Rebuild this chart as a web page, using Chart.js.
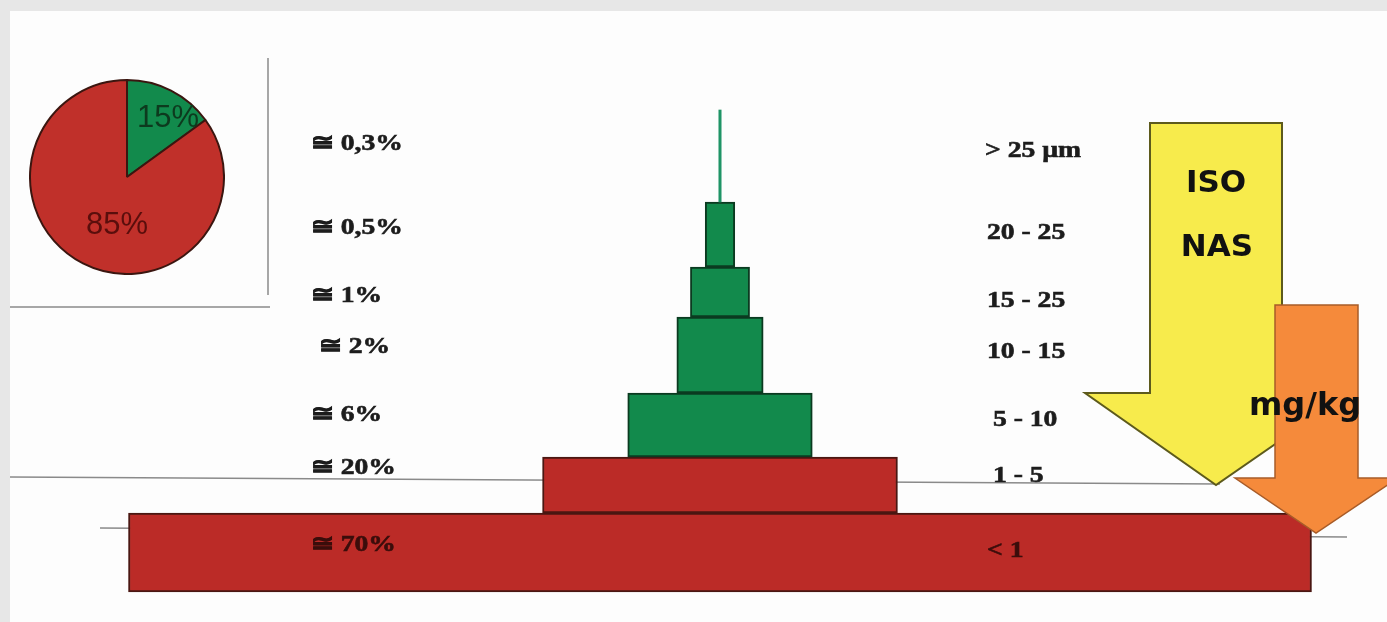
<!DOCTYPE html>
<html>
<head>
<meta charset="utf-8">
<script src="https://cdn.jsdelivr.net/npm/chart.js@4.4.0/dist/chart.umd.min.js"></script>
<style>
  html, body { margin: 0; padding: 0; background: #e7e7e7; overflow: hidden; }
  #panel { position: absolute; left: 10px; top: 11px; width: 1377px; height: 611px; background: #fdfdfd; }
  #main { position: absolute; left: 0; top: 0; }
  #pie { position: absolute; left: 29px; top: 79px; }
</style>
</head>
<body>
<div id="panel"></div>
<canvas id="main" width="1387" height="622"></canvas>
<canvas id="pie" width="196" height="196"></canvas>
<script>
// particle size classes, bottom level first
const sizeClasses = ['< 1', '1 - 5', '5 - 10', '10 - 15', '15 - 25', '20 - 25', '> 25 µm'];
const shareLabels = ['≅ 70%', '≅ 20%', '≅ 6%', '≅ 2%', '≅ 1%', '≅ 0,5%', '≅ 0,3%'];
const shareValues = [70, 20, 6, 2, 1, 0.5, 0.3];
// block width relative to the base block (= 100)
const blockWidths = [100, 30, 15.6, 7.3, 5, 2.5, 0.2];

// pie: share of particles
const pieLabels = ['15%', '85%'];
const pieValues = [15, 85];

// layout (pixels)
const LEVEL_EDGES = [592, 513, 457, 393, 317, 267, 202, 110];
const SHARE_Y = [545, 468, 415, 347, 296, 228, 144];
const SIZE_Y = [551, 476, 420, 352, 301, 233, 151];
const SIZE_X = [987, 993, 993, 987, 987, 987, 985];
const UNIT_PX = 11.83;     // pixels per relative width unit
const CENTER_PX = 720;

const RED = '#bb2b27';
const RED_EDGE = '#4a1712';
const GREEN = '#128a4c';
const GREEN_EDGE = '#0b3a20';
const LINE_GREEN = '#1f9466';

function stretchedText(ctx, txt, x, y, sx) {
  ctx.save();
  ctx.translate(x, y);
  ctx.scale(sx, 1);
  ctx.strokeText(txt, 0, 0);
  ctx.fillText(txt, 0, 0);
  ctx.restore();
}

const decor = {
  id: 'decor',
  beforeDatasetsDraw(chart) {
    const ctx = chart.ctx;
    ctx.save();
    ctx.strokeStyle = '#8a8a8a';
    ctx.lineWidth = 1.5;
    // pie box
    ctx.beginPath();
    ctx.moveTo(10, 307); ctx.lineTo(270, 307);
    ctx.moveTo(268, 58); ctx.lineTo(268, 295);
    ctx.stroke();
    // guide lines
    ctx.beginPath();
    ctx.moveTo(10, 477); ctx.lineTo(1220, 484);
    ctx.moveTo(100, 528); ctx.lineTo(1347, 537);
    ctx.stroke();
    ctx.restore();
  },
  afterDatasetsDraw(chart) {
    const ctx = chart.ctx;
    ctx.save();
    ctx.lineJoin = 'miter';

    // yellow arrow (ISO / NAS)
    ctx.beginPath();
    ctx.moveTo(1150, 123); ctx.lineTo(1282, 123); ctx.lineTo(1282, 393);
    ctx.lineTo(1349, 393); ctx.lineTo(1216, 485); ctx.lineTo(1085, 393);
    ctx.lineTo(1150, 393); ctx.closePath();
    ctx.fillStyle = '#f7eb4c';
    ctx.fill();
    ctx.strokeStyle = '#5d5a1c';
    ctx.lineWidth = 2;
    ctx.stroke();

    // orange arrow (mg/kg)
    ctx.beginPath();
    ctx.moveTo(1275, 305); ctx.lineTo(1358, 305); ctx.lineTo(1358, 478);
    ctx.lineTo(1398, 478); ctx.lineTo(1316, 533); ctx.lineTo(1235, 478);
    ctx.lineTo(1275, 478); ctx.closePath();
    ctx.fillStyle = '#f58a3b';
    ctx.fill();
    ctx.strokeStyle = '#a85c28';
    ctx.lineWidth = 1.5;
    ctx.stroke();

    // arrow texts
    ctx.fillStyle = '#111';
    ctx.textAlign = 'center';
    ctx.textBaseline = 'middle';
    ctx.font = 'bold 31px "DejaVu Sans"';
    ctx.fillText('ISO', 1216, 184);
    ctx.fillText('NAS', 1217, 248);
    ctx.textAlign = 'left';
    ctx.textBaseline = 'alphabetic';
    ctx.font = 'bold 32px "DejaVu Sans"';
    ctx.fillText('mg/kg', 1249, 415);

    // level labels
    ctx.font = 'bold 23px "Liberation Serif"';
    ctx.textBaseline = 'middle';
    ctx.lineWidth = 0.6;
    shareLabels.forEach((t, i) => {
      ctx.fillStyle = ctx.strokeStyle = i === 0 ? '#3a0d0b' : '#1c1c1c';
      stretchedText(ctx, t, i === 3 ? 319 : 311, SHARE_Y[i], 1.2);
    });
    sizeClasses.forEach((t, i) => {
      ctx.fillStyle = ctx.strokeStyle = i === 0 ? '#3a0d0b' : '#1c1c1c';
      stretchedText(ctx, t, SIZE_X[i], SIZE_Y[i], 1.2);
    });
    ctx.restore();
  }
};

const datasets = shareValues.map((v, i) => ({
  label: shareLabels[i],
  data: [{ x: [-blockWidths[i] / 2, blockWidths[i] / 2], y: (LEVEL_EDGES[i] + LEVEL_EDGES[i + 1]) / 2 }],
  barThickness: LEVEL_EDGES[i] - LEVEL_EDGES[i + 1],
  backgroundColor: i < 2 ? RED : (i === 6 ? LINE_GREEN : GREEN),
  borderColor: i < 2 ? RED_EDGE : GREEN_EDGE,
  borderWidth: i === 6 ? 0 : 2,
  borderSkipped: false,
  grouped: false,
  order: -i
}));

new Chart(document.getElementById('main'), {
  type: 'bar',
  data: { datasets },
  options: {
    indexAxis: 'y',
    responsive: false,
    animation: false,
    layout: { padding: 0 },
    scales: {
      x: { type: 'linear', display: false, min: -CENTER_PX / UNIT_PX, max: (1387 - CENTER_PX) / UNIT_PX },
      y: { type: 'linear', display: false, offset: false, min: 0, max: 622, reverse: true }
    },
    plugins: { legend: { display: false }, tooltip: { enabled: false } }
  },
  plugins: [decor]
});

const pieText = {
  id: 'pieText',
  afterDatasetsDraw(chart) {
    const ctx = chart.ctx;
    const arc = chart.getDatasetMeta(0).data[0];
    const offsets = [[41, -59], [-10, 48]];
    const colors = ['#0d3a1e', '#5a0e0c'];
    ctx.save();
    ctx.font = '31px "Liberation Sans"';
    ctx.textAlign = 'center';
    ctx.textBaseline = 'middle';
    pieLabels.forEach((t, i) => {
      ctx.fillStyle = colors[i];
      ctx.fillText(t, arc.x + offsets[i][0], arc.y + offsets[i][1]);
    });
    ctx.restore();
  }
};

new Chart(document.getElementById('pie'), {
  type: 'pie',
  data: {
    labels: pieLabels,
    datasets: [{ data: pieValues, backgroundColor: [GREEN, '#c0302a'], borderColor: '#3b1610', borderWidth: 2 }]
  },
  options: {
    responsive: false,
    animation: false,
    layout: { padding: 0 },
    plugins: { legend: { display: false }, tooltip: { enabled: false } }
  },
  plugins: [pieText]
});
</script>
</body>
</html>
